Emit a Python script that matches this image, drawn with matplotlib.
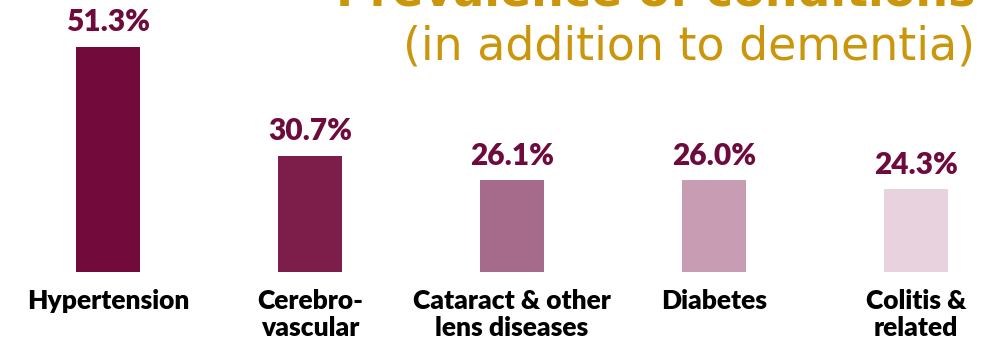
import matplotlib
matplotlib.use("Agg")
import matplotlib.pyplot as plt
import numpy as np

categories = ["Hypertension", "Cerebro-\nvascular", "Cataract & other\nlens diseases",
              "Diabetes", "Colitis &\nrelated"]
values = [51.3, 30.7, 26.1, 26.0, 24.3]
value_labels = ["51.3%", "30.7%", "26.1%", "26.0%", "24.3%"]
bar_colors = ["#720a3c", "#7d1e4a", "#a66a8a", "#c89db3", "#e8d2dd"]

title_line1 = "Prevalence of conditions"
title_line2 = "(in addition to dementia)"

gold = "#c9960c"
maroon = "#6e0b3d"

plt.rcParams['font.family'] = ['Lato', 'DejaVu Sans']

fig = plt.figure(figsize=(9.92, 3.42), dpi=100)
ax = fig.add_axes([0, 70 / 342, 1, 272 / 342])

x = np.arange(len(categories))
bars = ax.bar(x, values, width=0.32, color=bar_colors)

for rect, lab in zip(bars, value_labels):
    ax.annotate(lab, (rect.get_x() + rect.get_width() / 2, rect.get_height()),
                xytext=(0, 11), textcoords="offset points",
                ha="center", va="baseline", fontsize=21.5,
                fontweight="heavy", color=maroon)

ax.set_xlim(-0.535, 4.376)
ax.set_ylim(8.7, 60.1)
ax.set_xticks(x)
ax.set_xticklabels(categories, fontsize=19, fontweight="heavy", color="black",
                   linespacing=1.15)
ax.tick_params(axis="x", length=0, pad=12)
ax.set_yticks([])
for s in ax.spines.values():
    s.set_visible(False)

fig.text(975 / 992, 1 - 6 / 342, title_line1, ha="right", va="baseline",
         fontsize=33, fontweight="bold", color=gold, family="DejaVu Sans")
fig.text(975 / 992, 1 - 60 / 342, title_line2, ha="right", va="baseline",
         fontsize=33, fontweight="normal", color=gold, family="DejaVu Sans")

fig.savefig("out.png", dpi=100)
